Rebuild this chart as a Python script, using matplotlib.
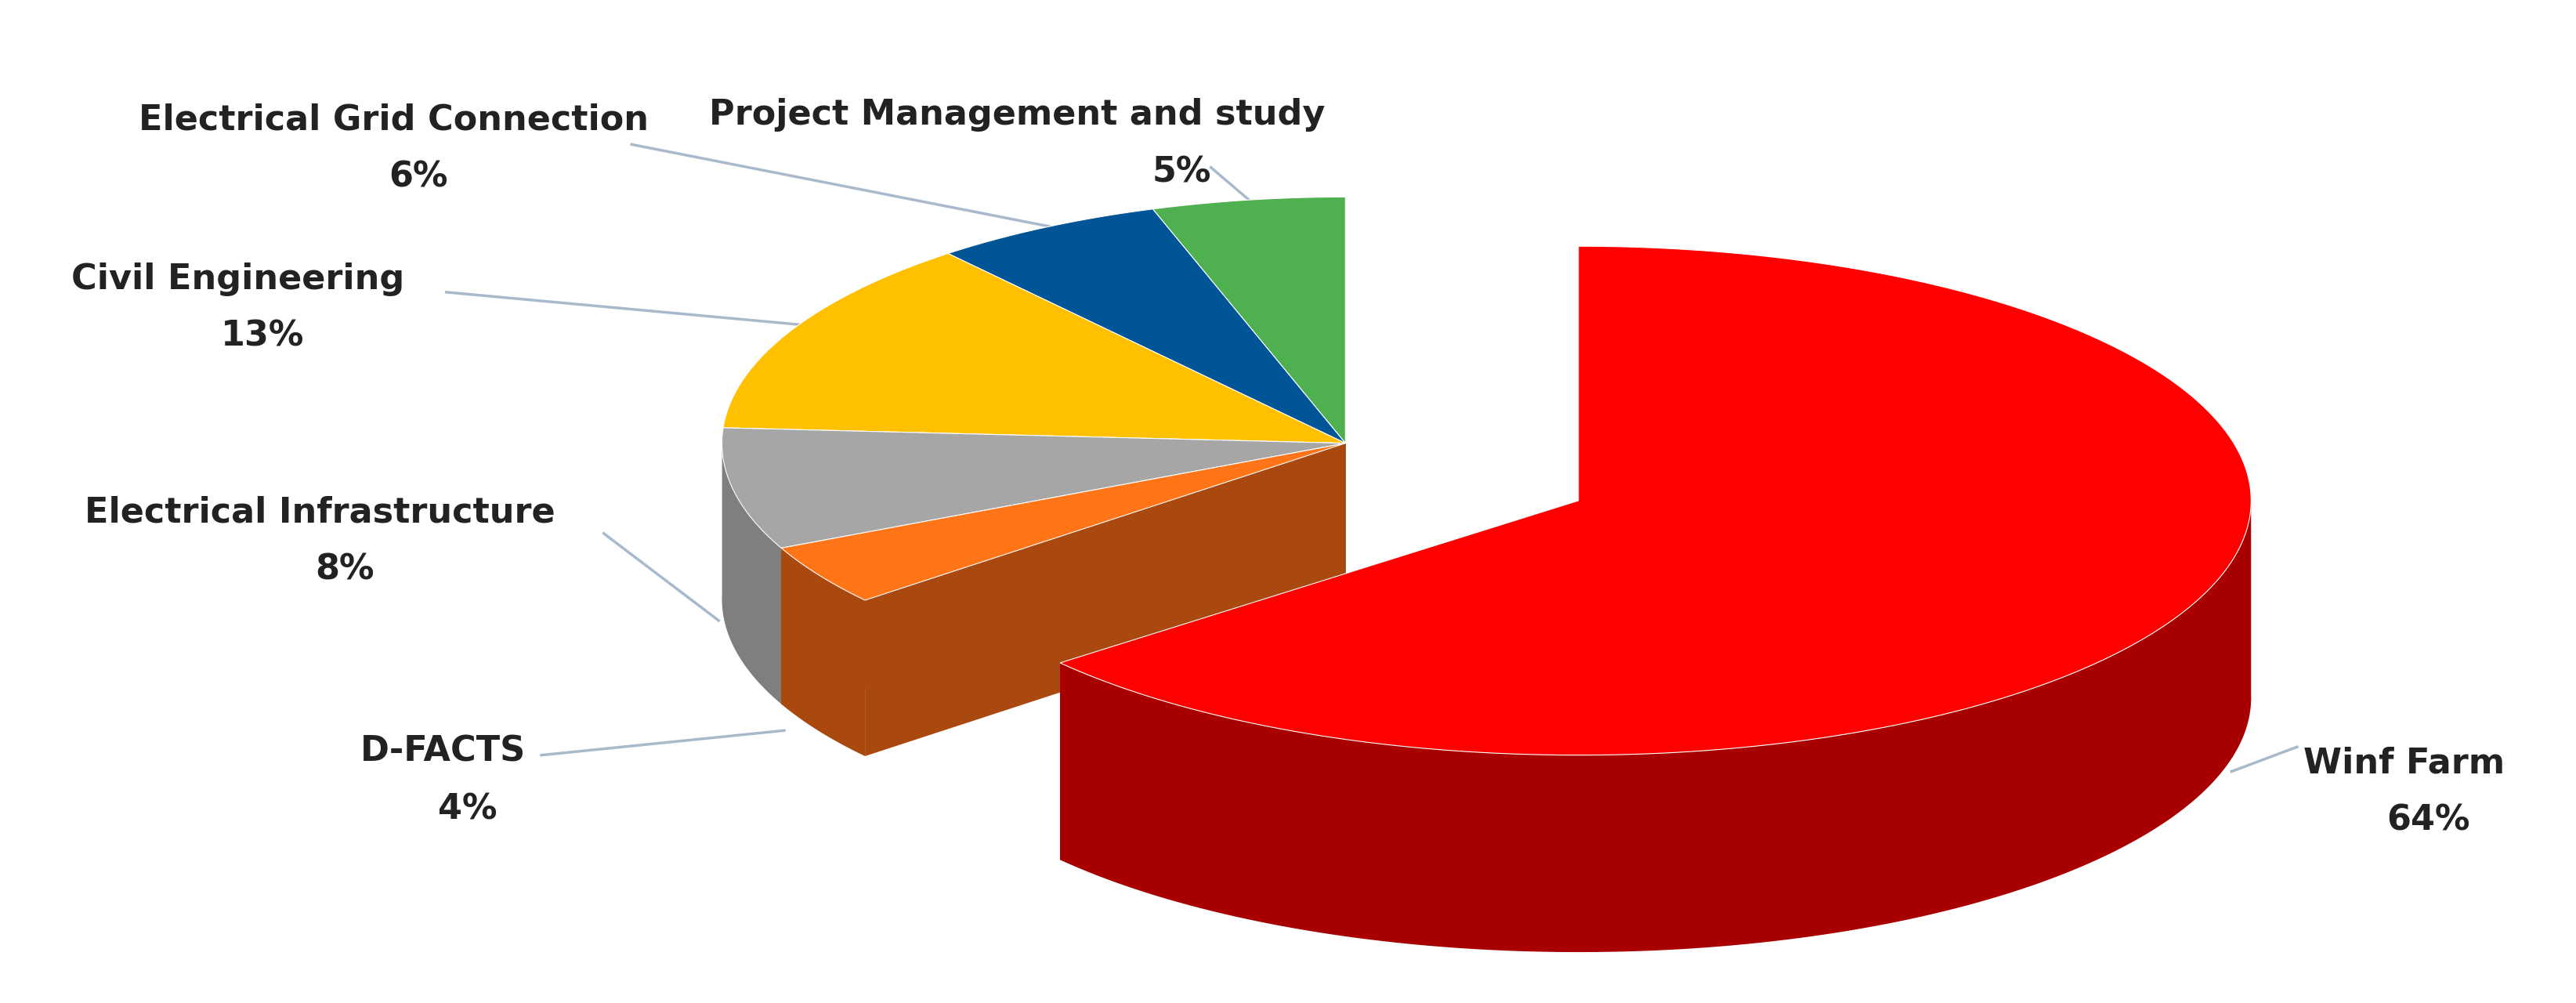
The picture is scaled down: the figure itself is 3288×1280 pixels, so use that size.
import numpy as np
import matplotlib.pyplot as plt
from matplotlib.patches import Polygon

# ------------------------------------------------------------
# Data
# ------------------------------------------------------------
labels = ["Project Management and study", "Electrical Grid Connection",
          "Civil Engineering", "Electrical Infrastructure", "D-FACTS", "Winf Farm"]
shares = [5, 6, 13, 8, 4, 64]
top_colors = ["#4fb04f", "#005596", "#ffc000", "#a6a6a6", "#ff7518", "#ff0000"]
side_colors = ["#2e8b2e", "#003e6e", "#c99700", "#7f7f7f", "#a9480f", "#a80000"]
label_pos = [(620, 70), (240, 73), (145, 170), (195, 312), (270, 458), (1465, 465)]
leader = [((765, 125), (738, 102)), ((650, 140), (385, 88)), ((490, 198), (272, 178)),
          ((438, 378), (368, 325)), ((478, 445), (330, 460)), ((1360, 470), (1400, 455))]

W, H = 1570, 611
fig = plt.figure(figsize=(32.88, 12.8), dpi=100)
ax = fig.add_axes([0, 0, 1, 1])
ax.set_xlim(0, W)
ax.set_ylim(H, 0)
ax.axis("off")


def pt(c, R, r, t):
    return (c[0] + R * np.cos(t), c[1] - r * np.sin(t))


def draw_slice(c, R, r, d, t1, t2, top, side, zbase):
    ts = np.linspace(t1, t2, 200)
    # radial faces
    for t in (t1, t2):
        e = pt(c, R, r, t)
        face = [c, e, (e[0], e[1] + d), (c[0], c[1] + d)]
        ax.add_patch(Polygon(face, closed=True, fc=side, ec="none", zorder=zbase))
    # outer wall on the front half
    front = ts[np.sin(ts) < 0.02]
    if len(front) > 1:
        up = [pt(c, R, r, t) for t in front]
        down = [(x, y + d) for x, y in up[::-1]]
        ax.add_patch(Polygon(up + down, closed=True, fc=side, ec="none", zorder=zbase + 1))
    arc = [pt(c, R, r, t) for t in ts]
    ax.add_patch(Polygon([c] + arc, closed=True, fc=top, ec="white", lw=0.8, zorder=zbase + 2))


cum = np.cumsum([0] + shares) / 100.0 * 2 * np.pi
start = np.pi / 2
for i in range(len(shares)):
    t1, t2 = start + cum[i], start + cum[i + 1]
    if i < 5:
        draw_slice((820, 270), 380, 150, 95, t1, t2, top_colors[i], side_colors[i], 2)
    else:
        draw_slice((962, 305), 410, 155, 120, t1, t2, top_colors[i], side_colors[i], 10)

for i, lab in enumerate(labels):
    x, y = label_pos[i]
    ax.text(x, y, lab, ha="center", va="center", fontsize=32, fontweight="bold",
            color="#222222", family="DejaVu Sans", zorder=20)
    ax.text(x + (15 if i != 0 else 100), y + 35, f"{shares[i]}%", ha="center", va="center",
            fontsize=32, fontweight="bold", color="#222222", zorder=20)
    (x0, y0), (x1, y1) = leader[i]
    ax.plot([x0, x1], [y0, y1], color="#a9b9cc", lw=2.5, zorder=1 if i < 5 else 19)

fig.savefig("out.png", dpi=100)
